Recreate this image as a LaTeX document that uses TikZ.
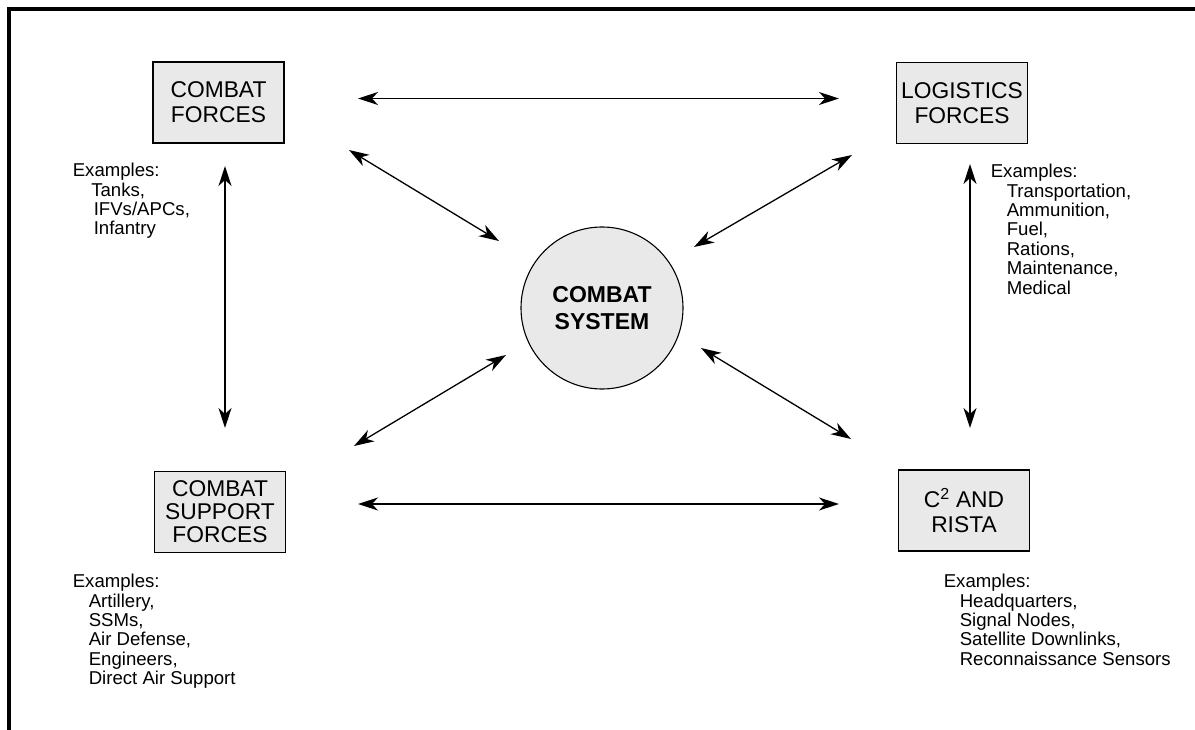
\documentclass[tikz,border=0pt]{standalone}
\usepackage{fontspec}
\setmainfont{Liberation Sans}
\usetikzlibrary{arrows.meta}
\definecolor{boxgray}{HTML}{E9E9E9}
\begin{document}
\begin{tikzpicture}[x=1pt,y=-1pt,
  forcebox/.style={draw=black, line width=1.1pt, fill=boxgray, minimum width=131pt, minimum height=81pt, inner sep=0pt, align=center, font=\fontsize{22.8}{25}\selectfont},
  hub/.style={circle, draw=black, line width=1.1pt, fill=boxgray, minimum size=162pt, inner sep=0pt, align=center, font=\bfseries\fontsize{23}{27}\selectfont},
  examples/.style={anchor=north west, inner sep=0pt, align=left, font=\fontsize{18.6}{19.4}\selectfont},
  link/.style={line width=1.3pt, {Stealth[length=20pt,width=13pt,inset=6pt]}-{Stealth[length=20pt,width=13pt,inset=6pt]}},
  frameline/.style={line width=4pt}
]
\useasboundingbox (0,0) rectangle (1195,730);
% frame (top and left edges)
\coordinate (fr1) at (9,730);
\coordinate (fr2) at (9,9);
\coordinate (fr3) at (1195,9);
\draw[frameline] (fr1) -- (fr2) -- (fr3);

% boxes
\node[forcebox] (cf) at (218.5,102.5) {COMBAT\\FORCES};
\node[forcebox] (lf) at (962,103) {LOGISTICS\\FORCES};
\node[forcebox, font=\fontsize{22.8}{23}\selectfont] (csf) at (220,512) {COMBAT\\SUPPORT\\FORCES};
\node[forcebox] (c2) at (964,510.5) {C\textsuperscript{2} AND\\RISTA};
\node[hub] (cs) at (602,308) {COMBAT\\SYSTEM};

% examples
\node[examples] (cfex) at (72.6,163) {Examples:\\\hspace*{18.5pt}Tanks,\\\hspace*{21pt}IFVs/APCs,\\\hspace*{21pt}Infantry};
\node[examples] (lfex) at (990.6,164) {Examples:\\\hspace*{16pt}Transportation,\\\hspace*{16pt}Ammunition,\\\hspace*{16pt}Fuel,\\\hspace*{16pt}Rations,\\\hspace*{16pt}Maintenance,\\\hspace*{16pt}Medical};
\node[examples] (csfex) at (72.6,574) {Examples:\\\hspace*{16pt}Artillery,\\\hspace*{16pt}SSMs,\\\hspace*{16pt}Air Defense,\\\hspace*{16pt}Engineers,\\\hspace*{16pt}Direct Air Support};
\node[examples] (c2ex) at (943.6,574) {Examples:\\\hspace*{16pt}Headquarters,\\\hspace*{16pt}Signal Nodes,\\\hspace*{16pt}Satellite Downlinks,\\\hspace*{16pt}Reconnaissance Sensors};

% arrow end points
\coordinate (th1) at (358,98.5);
\coordinate (th2) at (839,98.5);
\coordinate (bh1) at (358,504);
\coordinate (bh2) at (839,504);
\coordinate (lv1) at (225,166);
\coordinate (lv2) at (225,428);
\coordinate (rv1) at (970,164);
\coordinate (rv2) at (970,428);
\coordinate (tl1) at (349,150);
\coordinate (tl2) at (499,241);
\coordinate (tr1) at (852,155);
\coordinate (tr2) at (694,247);
\coordinate (bl1) at (354,446);
\coordinate (bl2) at (506,355);
\coordinate (br1) at (851,439);
\coordinate (br2) at (701,348);

\draw[link] (th1) -- (th2);
\draw[link] (bh1) -- (bh2);
\draw[link] (lv1) -- (lv2);
\draw[link] (rv1) -- (rv2);
\draw[link] (tl1) -- (tl2);
\draw[link] (tr1) -- (tr2);
\draw[link] (bl1) -- (bl2);
\draw[link] (br1) -- (br2);
\end{tikzpicture}
\end{document}
